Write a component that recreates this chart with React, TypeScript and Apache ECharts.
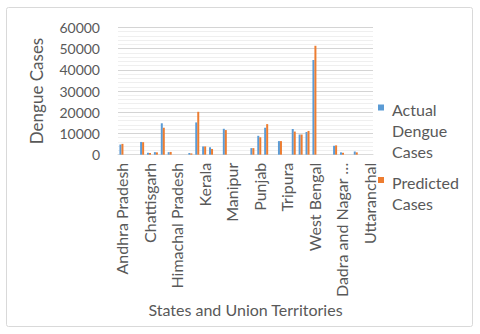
import React, { useEffect, useRef } from "react";
import * as echarts from "echarts";

const categories: string[] = [
  "Andhra Pradesh", "Arunachal Pradesh", "Assam", "Bihar", "Chattisgarh", "Goa", "Gujarat", "Haryana",
  "Himachal Pradesh", "Jammu & Kashmir", "Jharkhand", "Karnataka", "Kerala", "Madhya Pradesh", "Meghalaya",
  "Maharashtra", "Manipur", "Mizoram", "Nagaland", "Odisha", "Punjab", "Rajasthan", "Sikkim", "Tamil Nadu",
  "Tripura", "Telangana", "Uttar Pradesh", "Delhi", "West Bengal", "Andaman & Nicobar Islands", "Chandigarh",
  "Daman & Diu", "Dadra and Nagar Haveli", "Lakshadweep", "Puducherry", "Others", "Uttaranchal",
];

const actualCases: number[] = [
  4800, 0, 0, 6000, 900, 1200, 14800, 1200,
  0, 0, 800, 15200, 3900, 3500, 0,
  12200, 0, 0, 0, 3100, 8900, 12700, 0, 6400,
  0, 12100, 9500, 10700, 44600, 0, 0,
  4200, 1100, 0, 1500, 0, 0,
];

const predictedCases: number[] = [
  5100, 0, 0, 5900, 800, 1100, 12700, 1300,
  0, 0, 600, 20200, 3900, 2700, 0,
  11600, 0, 0, 0, 3100, 8200, 14400, 0, 6400,
  0, 10900, 9500, 11200, 51300, 0, 0,
  4400, 900, 0, 1100, 0, 0,
];

const yTicks = { min: 0, max: 60000, interval: 10000 };

const seriesNames = ["Actual Dengue Cases", "Predicted Cases"];
const legendTexts: Record<string, string> = {
  "Actual Dengue Cases": "Actual\nDengue\nCases",
  "Predicted Cases": "Predicted\nCases",
};

const FONT = "Lato";
const TEXT = "#595959";

export default function App() {
  const ref = useRef<HTMLDivElement>(null);
  useEffect(() => {
    if (!ref.current) return;
    const chart = echarts.init(ref.current, undefined, { renderer: "svg" });
    const legendCommon = {
      orient: "vertical" as const,
      left: 378,
      padding: 0,
      itemWidth: 9,
      selectedMode: true,
      formatter: (n: string) => legendTexts[n] ?? n,
      textStyle: { fontFamily: FONT, fontSize: 16, color: TEXT, lineHeight: 21 },
    };
    chart.setOption({
      animation: false,
      backgroundColor: "#ffffff",
      textStyle: { fontFamily: FONT },
      graphic: [
        {
          type: "rect",
          shape: { x: 6.5, y: 7.5, width: 466, height: 319, r: 2 },
          style: { fill: "none", stroke: "#d9d9d9", lineWidth: 1 },
          silent: true,
          z: -10,
        },
      ],
      legend: [
        {
          ...legendCommon,
          top: 98.5,
          itemHeight: 63,
          data: [
            {
              name: seriesNames[0],
              icon: "path://M0,6h6v6h-6z M0,0L0.01,0 M9,63L8.99,63",
            },
          ],
        },
        {
          ...legendCommon,
          top: 172,
          itemHeight: 42,
          data: [
            {
              name: seriesNames[1],
              icon: "path://M0,5h6v6h-6z M0,0L0.01,0 M9,42L8.99,42",
            },
          ],
        },
      ],
      grid: { left: 118, right: 107, top: 27.3, bottom: 179.3, containLabel: false },
      xAxis: {
        type: "category",
        data: categories,
        boundaryGap: true,
        name: "States and Union Territories",
        nameLocation: "middle",
        nameGap: 144,
        nameTextStyle: { fontFamily: FONT, fontSize: 16, color: TEXT },
        axisLine: { show: true, lineStyle: { color: "#d9d9d9", width: 1 } },
        axisTick: { show: false },
        axisLabel: {
          interval: 3,
          rotate: 90,
          margin: 8,
          fontFamily: FONT,
          fontSize: 16,
          color: TEXT,
          formatter: (v: string) => (v === "Dadra and Nagar Haveli" ? "Dadra and Nagar …" : v),
        },
        splitLine: { show: false },
      },
      yAxis: {
        type: "value",
        min: yTicks.min,
        max: yTicks.max,
        interval: yTicks.interval,
        name: "Dengue Cases",
        nameLocation: "middle",
        nameGap: 73,
        nameTextStyle: { fontFamily: FONT, fontSize: 17, color: TEXT },
        axisLine: { show: false },
        axisTick: { show: false },
        axisLabel: {
          margin: 18,
          fontFamily: FONT,
          fontSize: 14,
          color: TEXT,
          formatter: (v: number) => String(v),
        },
        splitLine: { show: true, lineStyle: { color: "#d4d4d4", width: 1 } },
        minorTick: { show: false, splitNumber: 5 },
        minorSplitLine: { show: true, lineStyle: { color: "#efefef", width: 1 } },
      },
      series: [
        {
          name: seriesNames[0],
          type: "bar",
          data: actualCases,
          barWidth: 2,
          barGap: "0%",
          itemStyle: { color: "#5b9bd5" },
        },
        {
          name: seriesNames[1],
          type: "bar",
          data: predictedCases,
          barWidth: 2,
          barGap: "0%",
          itemStyle: { color: "#ed7d31" },
        },
      ],
    });
    return () => chart.dispose();
  }, []);
  return (
    <div
      ref={ref}
      style={{ position: "absolute", left: 0, top: 0, width: 480, height: 334, background: "#fff" }}
    />
  );
}
